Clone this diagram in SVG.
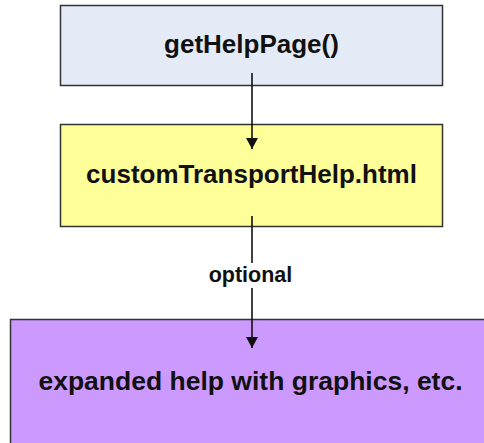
<svg xmlns="http://www.w3.org/2000/svg" width="484" height="443" viewBox="0 0 484 443">
<style>
.box{stroke:#333333;stroke-width:1.5}
.t{font-family:"Liberation Sans",Arial,sans-serif;font-weight:bold;fill:#111111;text-anchor:middle}
.c{stroke:#111111;stroke-width:1.6;fill:none}
</style>
<defs>
<marker id="ah" markerWidth="12" markerHeight="13" refX="11" refY="6" orient="auto" markerUnits="userSpaceOnUse">
<path d="M0,0 L11,6 L0,12 Z" fill="#111111"/>
</marker>
</defs>
<rect width="484" height="443" fill="#ffffff"/>
<g id="node-getHelpPage">
<rect class="box" x="60.5" y="5.5" width="382" height="80" fill="#e5ebf6"/>
<text class="t" x="251.5" y="53" font-size="26">getHelpPage()</text>
</g>
<g id="node-customTransportHelp">
<rect class="box" x="60.5" y="124.5" width="382" height="102" fill="#ffff99"/>
<text class="t" x="251.5" y="183" font-size="26">customTransportHelp.html</text>
</g>
<g id="node-expanded">
<rect class="box" x="10.5" y="319.5" width="490" height="140" fill="#cc99ff"/>
<text class="t" x="250.5" y="390" font-size="26.5">expanded help with graphics, etc.</text>
</g>
<g id="connectors">
<line class="c" x1="252" y1="73" x2="252" y2="149" marker-end="url(#ah)"/>
<line class="c" x1="252" y1="216" x2="252" y2="263"/>
<line class="c" x1="252" y1="288" x2="252" y2="348" marker-end="url(#ah)"/>
<text class="t" x="250.5" y="282" font-size="21.5">optional</text>
</g>
</svg>
